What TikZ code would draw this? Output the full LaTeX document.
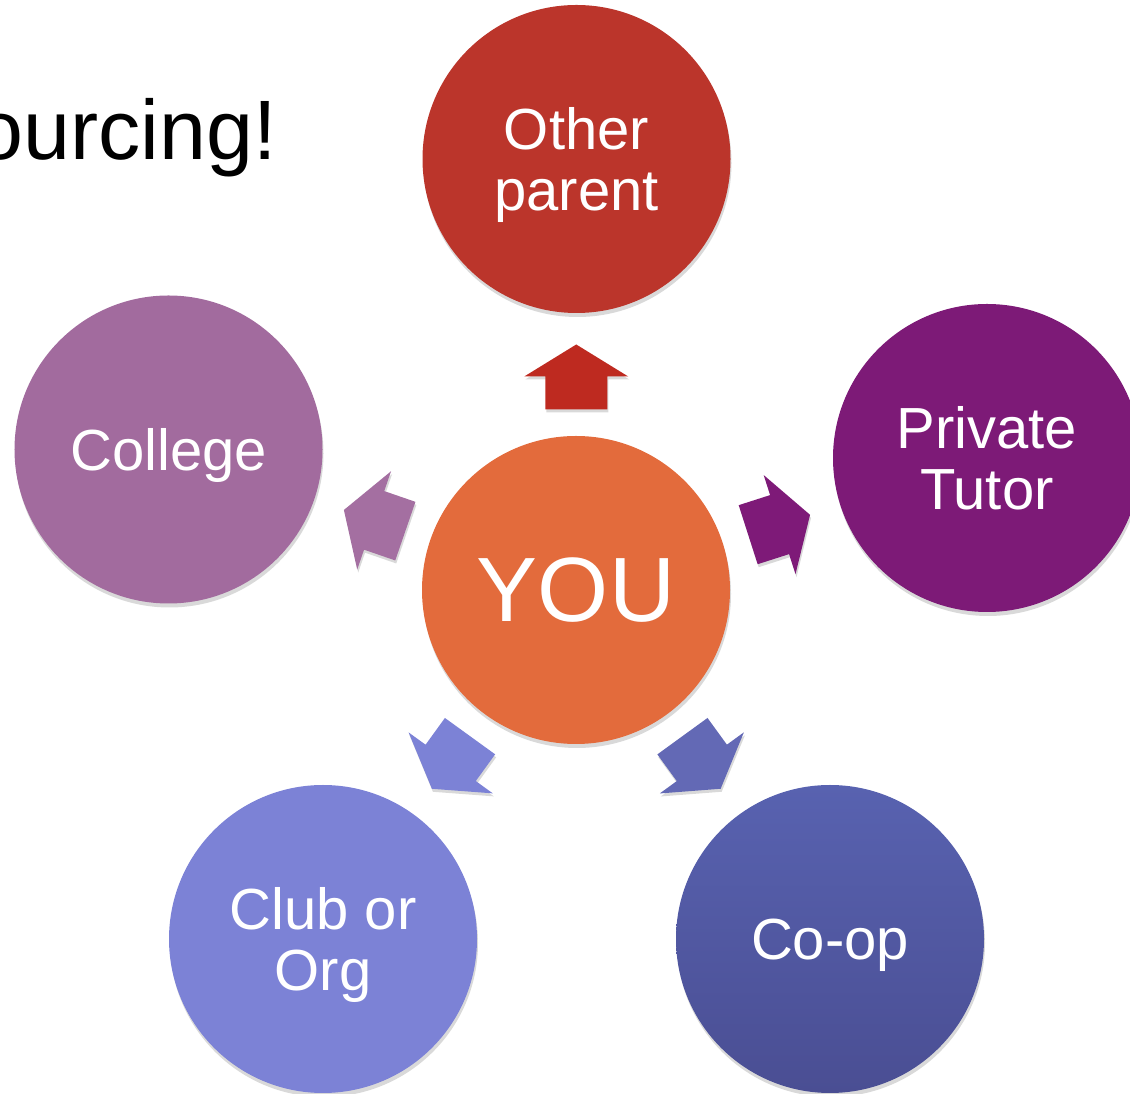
\documentclass[tikz,border=0pt]{standalone}
\usepackage{fontspec}
\setmainfont{Liberation Sans}
\usetikzlibrary{calc,shadows}

\definecolor{youOrange}{HTML}{E36B3C}
\definecolor{otherRed}{HTML}{BB352B}
\definecolor{tutorPlum}{HTML}{7D1A77}
\definecolor{collegeMauve}{HTML}{A26B9E}
\definecolor{clubPeri}{HTML}{7C82D6}
\definecolor{coopTop}{HTML}{5862B0}
\definecolor{coopBot}{HTML}{4A4E93}
\definecolor{arrRed}{HTML}{BE2A20}
\definecolor{arrPlum}{HTML}{7E1A78}
\definecolor{arrMauve}{HTML}{A46FA1}
\definecolor{arrPeri}{HTML}{7C82D6}
\definecolor{arrCoop}{HTML}{6369B5}

\begin{document}
\begin{tikzpicture}[
  ball/.style={circle, minimum size=6.16cm, inner sep=0pt, text=white, align=center,
    text depth=0pt, font=\fontsize{33}{35}\selectfont,
    drop shadow={shadow xshift=0.02cm, shadow yshift=-0.08cm, opacity=0.15, fill=black}},
  blockshadow/.style={drop shadow={shadow xshift=0.02cm, shadow yshift=-0.06cm, opacity=0.15, fill=black}}
]
 \useasboundingbox (0,0) rectangle (22.6,21.88);

 \node [anchor=base east, inner sep=0pt, font=\fontsize{48}{50}\selectfont] (title) at (5.54,18.68) {ourcing!};

 \node [ball, fill=youOrange, font=\fontsize{52}{54}\selectfont] (you) at (11.52,10.08) {YOU};
 \node [ball, fill=otherRed] (other) at (11.53,18.70) {Other\\parent};
 \node [ball, fill=tutorPlum] (tutor) at (19.74,12.72) {Private\\Tutor};
 \node [ball, fill=collegeMauve] (college) at (3.37,12.89) {College};
 \node [ball, fill=clubPeri] (club) at (6.46,3.10) {Club or\\Org};
 \node [ball, top color=coopTop, bottom color=coopBot] (coop) at (16.60,3.10) {Co-op};

 \foreach \n/\a/\col in {other/90/arrRed, tutor/17.8/arrPlum, college/161/arrMauve, club/234.1/arrPeri, coop/306/arrCoop}
  \fill[\col, blockshadow, shift={($(you)!0.5!(\n)$)}, rotate=\a]
   (-0.70,-0.62) -- (-0.04,-0.62) -- (-0.04,-1.04) -- (0.60,0) -- (-0.04,1.04) -- (-0.04,0.62) -- (-0.70,0.62) -- cycle;
\end{tikzpicture}
\end{document}
